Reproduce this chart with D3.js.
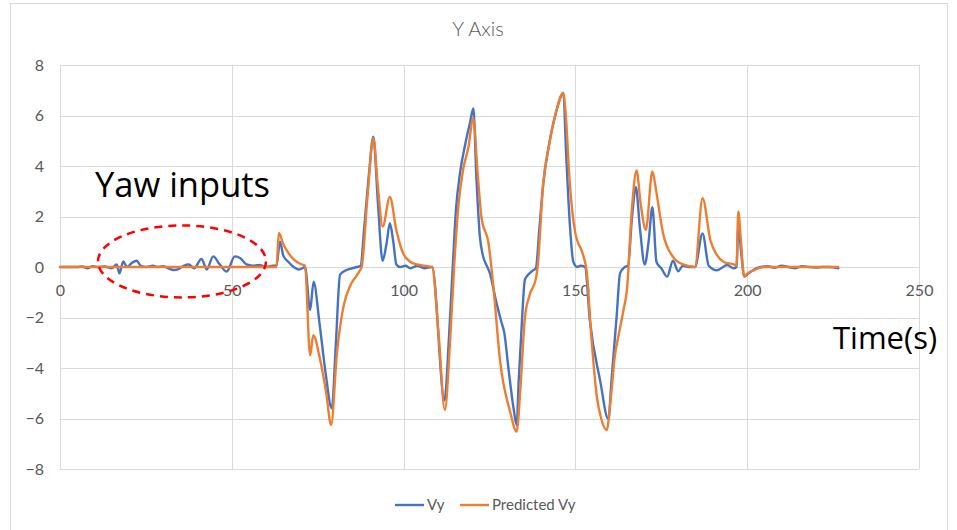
<!DOCTYPE html>
<html>
<head>
<meta charset="utf-8">
<script src="https://cdn.jsdelivr.net/npm/d3@7"></script>
<style>
  html, body { margin: 0; padding: 0; background: #fff; }
  svg { display: block; }
</style>
</head>
<body>
<svg id="chart" width="957" height="530"></svg>
<script>
// Measured lateral velocity (Vy) over time
const vyTime = [0, 5, 6.5, 8, 9.5, 11, 13, 15, 16.5, 17.3, 18.4, 19.5, 20.8, 22.3, 23.5, 25, 27, 28.5, 30, 31.5,
  33, 34.5, 36, 37.5, 39, 41.2, 42.7, 44.6, 46.5, 48.5, 50.9, 52.5, 54.3, 56, 58, 60, 62, 63, 64, 65,
  66.5, 68, 69.5, 70.5, 71.3, 72.8, 73.8, 75.5, 77.3, 79.1, 80.3, 81.5, 83.4, 85, 86.5, 87.5, 88.5, 90, 91.2, 92.5,
  93.9, 95, 96, 97, 97.9, 99, 100.5, 102, 104, 106, 108.3, 111.9, 113.2, 114.3, 115.2, 116.5, 118, 119.3, 120.3, 121.2,
  122.2, 123, 124.2, 125, 127, 128.5, 129.3, 130.5, 132, 132.9, 133.5, 134.5, 135.3, 136.3, 137.5, 138.5, 139.5, 140.6, 142.5, 144.4,
  146.5, 147.3, 148.4, 149.4, 150.5, 151.5, 152.8, 154.2, 157.2, 159.6, 160.5, 162, 163, 164.4, 165.3, 166.5, 167.6, 168.8, 170.2, 171.3,
  172.4, 173.6, 175, 176.7, 178.4, 179.9, 181.3, 183, 184.8, 187, 188.8, 191.2, 194.2, 196, 196.9, 197.4, 198.3, 199.1, 200, 202,
  204, 206, 208, 210, 212, 214, 216, 218, 220, 222, 224, 226.5];
const vyValues = [0, 0, 0.02, -0.05, 0.03, 0, 0.02, -0.05, 0.1, -0.25, 0.22, 0, 0.15, 0.25, 0.05, 0, 0.05, 0, 0.03, -0.05,
  -0.12, -0.08, 0.05, 0.1, -0.05, 0.32, -0.1, 0.42, 0.1, -0.18, 0.42, 0.35, 0.1, 0.05, 0.08, 0, 0.05, 0.05, 1.0, 0.45,
  0.2, 0, -0.1, -0.05, 0, -1.7, -0.58, -2.2, -4.2, -5.6, -3.0, -0.3, -0.12, -0.05, 0, 0.05, 1.5, 3.8, 5.16, 2.6,
  0.25, 0.9, 1.73, 1.0, 0.1, 0, 0.05, -0.05, 0.05, -0.05, 0, -5.28, -2.8, 0, 2.2, 3.8, 4.9, 5.7, 6.28, 3.5,
  1.2, 0.5, 0.05, -0.2, -1.4, -2.2, -2.6, -4.0, -5.6, -6.26, -4.5, -2.0, -0.5, -0.3, -0.15, -0.05, 1.5, 3.25, 4.96, 6.15,
  6.88, 4.5, 1.66, 0.2, 0, 0.05, 0, -2.1, -4.5, -6.03, -4.5, -1.96, -0.25, 0, 0.05, 2.0, 3.16, 1.5, 0.1, 1.0,
  2.37, 0.2, -0.05, -0.38, 0.25, -0.17, 0.05, 0, 0, 1.33, 0.05, -0.13, 0.08, -0.05, 0, 1.6, 0.5, -0.38, -0.3, -0.1,
  0, 0.03, -0.03, 0.05, 0, -0.05, 0.03, 0, -0.02, 0, 0, -0.05];

// Model-predicted Vy
const predTime = [0, 63, 63.7, 65, 66.5, 68, 70, 71.3, 72.8, 73.7, 75.6, 77.5, 78.9, 80.6, 82.5, 84.5, 86.4, 87.3, 87.8, 89.5,
  91.2, 92.5, 93.9, 96, 97.9, 99.9, 102, 104, 106, 108.3, 110.2, 112, 113.5, 114.7, 116, 117.4, 118.8, 120.3, 121.5, 122.7,
  124.7, 126.1, 128.1, 131, 132.9, 134, 135.3, 136.7, 138.5, 139, 140.6, 142.5, 144.4, 146.5, 147.1, 148.4, 149.9, 152.3, 153.3, 154.5,
  156.2, 157.5, 159.1, 160.3, 161.5, 162.5, 164, 165, 166.5, 167.8, 169, 170.5, 172.4, 173.6, 175.5, 178.4, 181.3, 184.8, 187, 189.3,
  191.2, 193.2, 196.1, 196.9, 197.4, 198.2, 199.1, 200, 201.9, 204.8, 226.5];
const predValues = [0, 0, 1.35, 0.9, 0.55, 0.3, 0.12, 0.05, -3.5, -2.7, -3.6, -5.0, -6.26, -3.4, -1.57, -0.73, -0.33, -0.13, 0, 2.8,
  5.1, 3.2, 1.6, 2.77, 1.45, 0.53, 0.2, 0.1, 0.05, 0, -2.7, -5.66, -3.0, 0, 2.5, 3.92, 4.7, 5.9, 3.8, 1.93,
  0.95, -0.73, -3.75, -5.73, -6.52, -4.8, -2.0, -1.1, -0.46, 0, 3.25, 4.96, 6.15, 6.9, 6.2, 3.25, 1.4, 0.45, -0.18, -2.5,
  -5.1, -6.0, -6.46, -5.2, -3.5, -2.75, -1.7, -0.9, 2.4, 3.82, 2.5, 1.47, 3.78, 2.93, 1.34, 0.4, 0.1, 0, 2.72, 1.05,
  0.47, 0.2, 0.1, 0.05, 2.2, 1.0, -0.38, -0.26, -0.13, 0, 0];

const xTicks = [0, 50, 100, 150, 200, 250];
const yTicks = [-8, -6, -4, -2, 0, 2, 4, 6, 8];
const seriesNames = ["Vy", "Predicted Vy"];
const seriesColors = ["#4472C4", "#ED7D31"];

const svg = d3.select("#chart");
const plot = { left: 60, right: 919, top: 65, bottom: 469 };

const x = d3.scaleLinear().domain([0, 250]).range([plot.left, plot.right]);
const y = d3.scaleLinear().domain([-8, 8]).range([plot.bottom, plot.top]);

const labelFont = "Lato, 'Open Sans', sans-serif";
const noteFont = "'Open Sans', Lato, sans-serif";
const gray = "#595959";

// Outer chart frame
svg.append("rect")
  .attr("x", 10.5).attr("y", 3.5)
  .attr("width", 937).attr("height", 540)
  .attr("fill", "#fff").attr("stroke", "#D9D9D9").attr("stroke-width", 1);

// Gridlines
const grid = svg.append("g");
grid.selectAll("line.h").data(yTicks).join("line")
  .attr("x1", plot.left).attr("x2", plot.right)
  .attr("y1", d => Math.round(y(d)) + 0.5).attr("y2", d => Math.round(y(d)) + 0.5)
  .attr("stroke", "#D9D9D9").attr("stroke-width", 1);
grid.selectAll("line.v").data(xTicks).join("line")
  .attr("y1", plot.top).attr("y2", plot.bottom)
  .attr("x1", d => Math.round(x(d)) + 0.5).attr("x2", d => Math.round(x(d)) + 0.5)
  .attr("stroke", "#D9D9D9").attr("stroke-width", 1);

// Y axis labels
const yAxis = d3.axisLeft(y).tickValues(yTicks).tickSize(0).tickPadding(16);
svg.append("g").attr("transform", `translate(${plot.left},0)`).call(yAxis)
  .call(g => g.select(".domain").remove())
  .call(g => g.selectAll("text").attr("fill", gray).attr("font-size", 16).attr("font-family", labelFont));

// X axis labels sit just under the zero line
const xAxis = d3.axisBottom(x).tickValues(xTicks).tickSize(0).tickPadding(18);
svg.append("g").attr("transform", `translate(0,${y(0)})`).call(xAxis)
  .call(g => g.select(".domain").remove())
  .call(g => g.selectAll("text").attr("fill", gray).attr("font-size", 16).attr("font-family", labelFont));

// Series lines
const line = d3.line().x(d => x(d[0])).y(d => y(d[1])).curve(d3.curveMonotoneX);
const vyData = d3.zip(vyTime, vyValues);
const predData = d3.zip(predTime, predValues);

svg.append("path").datum(vyData)
  .attr("d", line).attr("fill", "none")
  .attr("stroke", seriesColors[0]).attr("stroke-width", 2.4)
  .attr("stroke-linejoin", "round").attr("stroke-linecap", "round");
svg.append("path").datum(predData)
  .attr("d", line).attr("fill", "none")
  .attr("stroke", seriesColors[1]).attr("stroke-width", 2.4)
  .attr("stroke-linejoin", "round").attr("stroke-linecap", "round");

// Title
svg.append("text")
  .attr("x", 478).attr("y", 36)
  .attr("text-anchor", "middle")
  .attr("font-family", labelFont).attr("font-weight", 300)
  .attr("font-size", 20).attr("fill", gray)
  .text("Y Axis");

// Legend
const legend = svg.append("g").attr("transform", "translate(395,505)");
const legendItems = [{ name: seriesNames[0], color: seriesColors[0], dx: 0 },
                     { name: seriesNames[1], color: seriesColors[1], dx: 65 }];
legendItems.forEach(it => {
  legend.append("line").attr("x1", it.dx).attr("x2", it.dx + 29)
    .attr("y1", 0).attr("y2", 0)
    .attr("stroke", it.color).attr("stroke-width", 2.4);
  legend.append("text").attr("x", it.dx + 32).attr("y", 5)
    .attr("font-family", labelFont).attr("font-size", 15).attr("fill", gray)
    .text(it.name);
});

// Annotations
svg.append("ellipse")
  .attr("cx", x(35.5)).attr("cy", y(0.22))
  .attr("rx", 84).attr("ry", 36)
  .attr("fill", "none").attr("stroke", "#FF0000")
  .attr("stroke-width", 2.5).attr("stroke-dasharray", "8,6");

svg.append("text")
  .attr("x", 95).attr("y", 197)
  .attr("font-family", noteFont).attr("font-size", 34.5).attr("fill", "#000")
  .text("Yaw inputs");

svg.append("text")
  .attr("x", 833).attr("y", 349)
  .attr("font-family", noteFont).attr("font-size", 31).attr("fill", "#000")
  .text("Time(s)");
</script>
</body>
</html>
